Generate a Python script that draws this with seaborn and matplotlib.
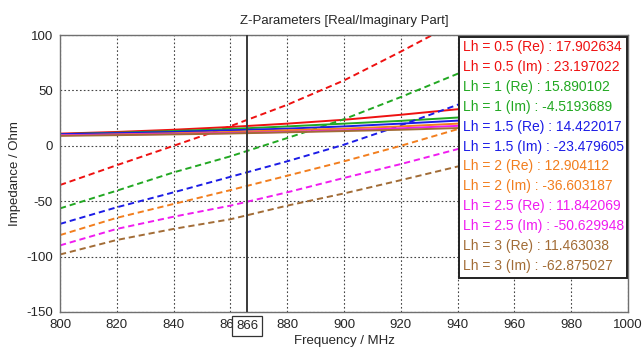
import numpy as np
import pandas as pd
import matplotlib
matplotlib.use("Agg")
import matplotlib.pyplot as plt
from matplotlib.patches import Rectangle
import seaborn as sns

# ---------------- data ----------------
freq = [800, 820, 840, 860, 880, 900, 920, 940, 960, 980, 1000]
lh_values = ["0.5", "1", "1.5", "2", "2.5", "3"]

re_05 = [11.0, 12.5, 14.5, 17.0, 20.0, 23.5, 28.0, 33.0, 38.0, 43.0, 48.0]
re_1 = [10.5, 11.8, 13.3, 15.2, 17.5, 20.0, 22.5, 25.5, 29.0, 33.0, 38.0]
re_15 = [10.5, 11.4, 12.5, 14.0, 15.5, 17.5, 20.0, 22.7, 26.0, 30.0, 35.0]
re_2 = [9.5, 10.3, 11.3, 12.5, 14.0, 15.5, 17.5, 20.0, 22.0, 24.0, 26.0]
re_25 = [9.5, 10.0, 10.7, 11.5, 12.5, 14.0, 15.8, 18.0, 20.0, 22.0, 24.0]
re_3 = [9.0, 9.6, 10.3, 11.1, 12.2, 13.3, 14.5, 16.0, 17.5, 19.0, 20.5]

im_05 = [-35.4, -17.5, 0.0, 17.7, 37.0, 59.0, 85.0, 112.0, 142.0, 175.0, 212.0]
im_1 = [-56.5, -40.5, -24.0, -9.5, 7.0, 24.0, 44.0, 65.0, 88.0, 113.0, 140.0]
im_15 = [-70.5, -55.5, -42.0, -28.0, -14.0, 1.0, 18.5, 37.0, 57.0, 79.0, 103.0]
im_2 = [-80.6, -65.0, -52.5, -40.0, -27.0, -14.0, 0.0, 15.0, 31.0, 49.0, 68.0]
im_25 = [-89.9, -75.0, -64.0, -54.0, -42.0, -29.0, -16.5, -3.0, 11.0, 26.0, 42.0]
im_3 = [-98.1, -85.0, -75.0, -66.3, -54.0, -43.0, -31.0, -18.7, -5.0, 9.0, 24.0]

marker_freq = 866
marker_re = ["17.902634", "15.890102", "14.422017", "12.904112", "11.842069", "11.463038"]
marker_im = ["23.197022", "-4.5193689", "-23.479605", "-36.603187", "-50.629948", "-62.875027"]

colors = ["#ee1111", "#22a822", "#1c1ce6", "#f27e1e", "#f01cf0", "#a26c36"]

x_ticks = [800, 820, 840, 860, 880, 900, 920, 940, 960, 980, 1000]
y_ticks = [-150, -100, -50, 0, 50, 100]

title = "Z-Parameters [Real/Imaginary Part]"
xlabel = "Frequency / MHz"
ylabel = "Impedance / Ohm"

# ---------------- build table ----------------
re_all = [re_05, re_1, re_15, re_2, re_25, re_3]
im_all = [im_05, im_1, im_15, im_2, im_25, im_3]
rows = []
for lh, re, im in zip(lh_values, re_all, im_all):
    for f, r, i in zip(freq, re, im):
        rows.append({"freq": f, "value": r, "Lh": lh, "part": "Re"})
        rows.append({"freq": f, "value": i, "Lh": lh, "part": "Im"})
df = pd.DataFrame(rows)

# ---------------- plot ----------------
sns.set_style("white")
plt.rcParams["font.family"] = ["Liberation Sans", "DejaVu Sans"]
plt.rcParams["axes.unicode_minus"] = False

fig = plt.figure(figsize=(6.42, 3.52), dpi=100)
ax = fig.add_axes([60 / 642, 40 / 352, 568 / 642, 277 / 352])

sns.lineplot(
    data=df, x="freq", y="value", hue="Lh", style="part",
    palette=dict(zip(lh_values, colors)),
    dashes={"Re": "", "Im": (3.2, 2.0)},
    hue_order=lh_values, style_order=["Re", "Im"],
    linewidth=1.4, legend=False, ax=ax, sort=True,
)

ax.set_xlim(800, 1000)
ax.set_ylim(-150, 100)
ax.set_xticks(x_ticks)
ax.set_yticks(y_ticks)
ax.tick_params(axis="both", labelsize=9.5, length=3, width=0.8,
               color="#606060", pad=2, direction="out")
ax.grid(True, linestyle=(0, (1.5, 2.0)), color="#444444", linewidth=0.8)
for s in ax.spines.values():
    s.set_color("#707070")
    s.set_linewidth(1.0)

ax.set_title(title, fontsize=9.5, pad=8)
ax.set_xlabel(xlabel, fontsize=9.5, labelpad=3)
ax.set_ylabel(ylabel, fontsize=9.5, labelpad=4)

# marker line
ax.axvline(marker_freq, color="#3a3a3a", linewidth=1.4, zorder=5)
ax.text(marker_freq, -0.03, str(marker_freq), transform=ax.get_xaxis_transform(),
        ha="center", va="top", fontsize=9.5, zorder=10, clip_on=False,
        bbox=dict(boxstyle="square,pad=0.3", facecolor="white",
                  edgecolor="#333333", linewidth=0.9))

# marker legend box
x0, x1 = (459 - 60) / 568, (627 - 60) / 568
y_top, y_bot = (312 - 37) / 277, (312 - 278) / 277
ax.add_patch(Rectangle((x0, y_bot), x1 - x0, y_top - y_bot, transform=ax.transAxes,
                       facecolor="white", edgecolor="#222222", linewidth=1.4,
                       zorder=20, clip_on=False))
labels = []
for lh, r, i, c in zip(lh_values, marker_re, marker_im, colors):
    labels.append((f"Lh = {lh} (Re) : {r}", c))
    labels.append((f"Lh = {lh} (Im) : {i}", c))
row_top = (312 - 47) / 277
row_step = ((312 - 47) - (312 - 266)) / 277 / 11
for k, (txt, c) in enumerate(labels):
    ax.text(x0 + 4 / 568, row_top - k * row_step, txt, transform=ax.transAxes,
            color=c, fontsize=10, ha="left", va="center", zorder=21)

fig.savefig("out.png", dpi=100)
